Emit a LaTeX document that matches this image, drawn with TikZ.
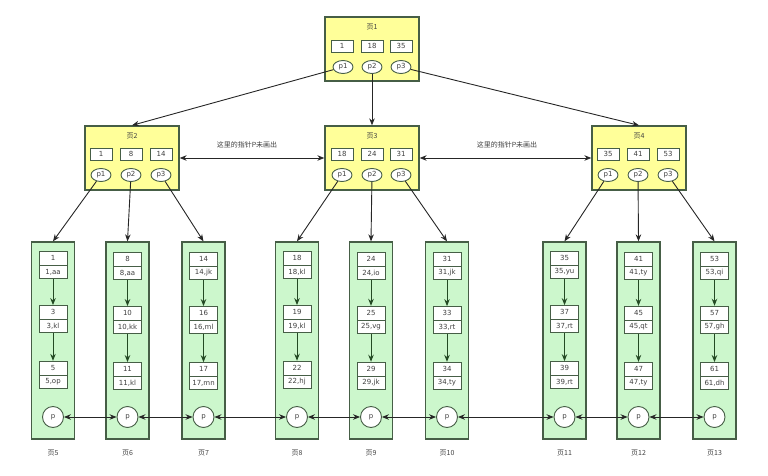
\documentclass[tikz,border=0pt]{standalone}
\usepackage{fontspec}
\setmainfont{DejaVu Sans}
\newfontfamily\cjk{Noto Sans CJK SC}
\usetikzlibrary{arrows.meta,shapes.geometric,shapes.multipart}
\definecolor{leafgreen}{HTML}{CCF7CC}
\definecolor{pageyellow}{HTML}{FFFF99}
\definecolor{edgegray}{HTML}{465E46}
\definecolor{linkgreen}{HTML}{244A24}
\tikzset{
  branch/.style={draw=edgegray, line width=1.3pt, fill=pageyellow, minimum width=94pt, minimum height=64pt},
  leaf/.style={draw=edgegray, line width=1.3pt, fill=leafgreen, minimum width=43pt, minimum height=197pt},
  keybox/.style={draw=edgegray, line width=0.9pt, fill=white, minimum width=22pt, minimum height=12pt, inner sep=0pt},
  ptr/.style={ellipse, draw=edgegray, line width=0.9pt, fill=white, minimum width=20pt, minimum height=13pt, inner sep=0pt},
  rec/.style={rectangle split, rectangle split parts=2, draw=edgegray, line width=0.9pt, fill=white, minimum width=28pt, text height=5.5pt, text depth=1.5pt, inner ysep=3pt, inner xsep=1pt},
  nxt/.style={circle, draw=edgegray, line width=0.9pt, fill=white, minimum size=21pt, inner sep=0pt},
  down/.style={-{Stealth[length=7pt,width=5.5pt]}, line width=0.9pt, draw=black!85},
  chain/.style={-{Stealth[length=7pt,width=5.5pt]}, line width=1pt, draw=linkgreen},
  twoway/.style={{Stealth[length=7pt,width=5.5pt]}-{Stealth[length=7pt,width=5.5pt]}, line width=0.9pt, draw=black!85}
}
\begin{document}
\begin{tikzpicture}[x=1pt, y=-1pt, every node/.style={font=\fontsize{7}{8}\selectfont, text=black!75}]
      \useasboundingbox (0,0) rectangle (768,476);
      % root page
      \node (pg1)[branch] at (372,49) {};
      \node (t1) at (372,27) {\cjk 页1};
      \node (k1a)[keybox] at (342,46) {1};
      \node (k1b)[keybox] at (372,46) {18};
      \node (k1c)[keybox] at (401,46) {35};
      \node (p1a)[ptr] at (343,67) {p1};
      \node (p1b)[ptr] at (372,67) {p2};
      \node (p1c)[ptr] at (401,67) {p3};
      % second level
      \node (pg2)[branch] at (132,158) {};
      \node (t2) at (132,136) {\cjk 页2};
      \node (k2a)[keybox] at (101,154) {1};
      \node (k2b)[keybox] at (131,154) {8};
      \node (k2c)[keybox] at (161,154) {14};
      \node (p2a)[ptr] at (101,175) {p1};
      \node (p2b)[ptr] at (131,175) {p2};
      \node (p2c)[ptr] at (161,175) {p3};
      \node (pg3)[branch] at (372,158) {};
      \node (t3) at (372,136) {\cjk 页3};
      \node (k3a)[keybox] at (342,154) {18};
      \node (k3b)[keybox] at (372,154) {24};
      \node (k3c)[keybox] at (401,154) {31};
      \node (p3a)[ptr] at (342,175) {p1};
      \node (p3b)[ptr] at (372,175) {p2};
      \node (p3c)[ptr] at (401,175) {p3};
      \node (pg4)[branch] at (639,158) {};
      \node (t4) at (639,136) {\cjk 页4};
      \node (k4a)[keybox] at (608,154) {35};
      \node (k4b)[keybox] at (638,154) {41};
      \node (k4c)[keybox] at (668,154) {53};
      \node (p4a)[ptr] at (608,175) {p1};
      \node (p4b)[ptr] at (638,175) {p2};
      \node (p4c)[ptr] at (668,175) {p3};
      \node (n23) at (247,145) {\cjk 这里的指针P未画出};
      \node (n34) at (507,145) {\cjk 这里的指针P未画出};
      % leaf pages
      \node (pg5)[leaf] at (53,340.5) {};
      \node (r5a)[rec] at (53,265) {1 \nodepart{two} 1,aa};
      \node (r5b)[rec] at (53,319) {3 \nodepart{two} 3,kl};
      \node (r5c)[rec] at (53,375) {5 \nodepart{two} 5,op};
      \node (c5)[nxt] at (53,417) {p};
      \node (t5) at (53,453) {\cjk 页5};
      \node (pg6)[leaf] at (127.5,340.5) {};
      \node (r6a)[rec] at (127.5,266) {8 \nodepart{two} 8,aa};
      \node (r6b)[rec] at (127.5,320) {10 \nodepart{two} 10,kk};
      \node (r6c)[rec] at (127.5,376) {11 \nodepart{two} 11,kl};
      \node (c6)[nxt] at (127.5,417) {p};
      \node (t6) at (127.5,453) {\cjk 页6};
      \node (pg7)[leaf] at (203.5,340.5) {};
      \node (r7a)[rec] at (203.5,266) {14 \nodepart{two} 14,jk};
      \node (r7b)[rec] at (203.5,320) {16 \nodepart{two} 16,ml};
      \node (r7c)[rec] at (203.5,376) {17 \nodepart{two} 17,mn};
      \node (c7)[nxt] at (203.5,417) {p};
      \node (t7) at (203.5,453) {\cjk 页7};
      \node (pg8)[leaf] at (297,340.5) {};
      \node (r8a)[rec] at (297,265) {18 \nodepart{two} 18,kl};
      \node (r8b)[rec] at (297,319) {19 \nodepart{two} 19,kl};
      \node (r8c)[rec] at (297,375) {22 \nodepart{two} 22,hj};
      \node (c8)[nxt] at (297,417) {p};
      \node (t8) at (297,453) {\cjk 页8};
      \node (pg9)[leaf] at (371,340.5) {};
      \node (r9a)[rec] at (371,266) {24 \nodepart{two} 24,io};
      \node (r9b)[rec] at (371,320) {25 \nodepart{two} 25,vg};
      \node (r9c)[rec] at (371,376) {29 \nodepart{two} 29,jk};
      \node (c9)[nxt] at (371,417) {p};
      \node (t9) at (371,453) {\cjk 页9};
      \node (pg10)[leaf] at (447,340.5) {};
      \node (r10a)[rec] at (447,266) {31 \nodepart{two} 31,jk};
      \node (r10b)[rec] at (447,320) {33 \nodepart{two} 33,rt};
      \node (r10c)[rec] at (447,376) {34 \nodepart{two} 34,ty};
      \node (c10)[nxt] at (447,417) {p};
      \node (t10) at (447,453) {\cjk 页10};
      \node (pg11)[leaf] at (564.5,340.5) {};
      \node (r11a)[rec] at (564.5,265) {35 \nodepart{two} 35,yu};
      \node (r11b)[rec] at (564.5,319) {37 \nodepart{two} 37,rt};
      \node (r11c)[rec] at (564.5,375) {39 \nodepart{two} 39,rt};
      \node (c11)[nxt] at (564.5,417) {p};
      \node (t11) at (564.5,453) {\cjk 页11};
      \node (pg12)[leaf] at (638.5,340.5) {};
      \node (r12a)[rec] at (638.5,266) {41 \nodepart{two} 41,ty};
      \node (r12b)[rec] at (638.5,320) {45 \nodepart{two} 45,qt};
      \node (r12c)[rec] at (638.5,376) {47 \nodepart{two} 47,ty};
      \node (c12)[nxt] at (638.5,417) {p};
      \node (t12) at (638.5,453) {\cjk 页12};
      \node (pg13)[leaf] at (714.5,340.5) {};
      \node (r13a)[rec] at (714.5,266) {53 \nodepart{two} 53,qi};
      \node (r13b)[rec] at (714.5,320) {57 \nodepart{two} 57,gh};
      \node (r13c)[rec] at (714.5,376) {61 \nodepart{two} 61,dh};
      \node (c13)[nxt] at (714.5,417) {p};
      \node (t13) at (714.5,453) {\cjk 页13};
      % pointers down the tree
      \draw[down] (p1a) -- (pg2.north);
      \draw[down] (p1b) -- (pg3.north);
      \draw[down] (p1c) -- (pg4.north);
      \draw[down] (p2a) -- (pg5.north);
      \draw[down] (p2b) -- (pg6.north);
      \draw[down] (p2c) -- (pg7.north);
      \draw[down] (p3a) -- (pg8.north);
      \draw[down] (p3b) -- (pg9.north);
      \draw[down] (p3c) -- (pg10.north);
      \draw[down] (p4a) -- (pg11.north);
      \draw[down] (p4b) -- (pg12.north);
      \draw[down] (p4c) -- (pg13.north);
      \draw[twoway] (pg2) -- (pg3);
      \draw[twoway] (pg3) -- (pg4);
      % records inside the leaves
      \draw[chain] (r5a) -- (r5b);  \draw[chain] (r5b) -- (r5c);
      \draw[chain] (r6a) -- (r6b);  \draw[chain] (r6b) -- (r6c);
      \draw[chain] (r7a) -- (r7b);  \draw[chain] (r7b) -- (r7c);
      \draw[chain] (r8a) -- (r8b);  \draw[chain] (r8b) -- (r8c);
      \draw[chain] (r9a) -- (r9b);  \draw[chain] (r9b) -- (r9c);
      \draw[chain] (r10a) -- (r10b);  \draw[chain] (r10b) -- (r10c);
      \draw[chain] (r11a) -- (r11b);  \draw[chain] (r11b) -- (r11c);
      \draw[chain] (r12a) -- (r12b);  \draw[chain] (r12b) -- (r12c);
      \draw[chain] (r13a) -- (r13b);  \draw[chain] (r13b) -- (r13c);
      % leaf links
      \draw[twoway] (c5) -- (c6);
      \draw[twoway] (c6) -- (c7);
      \draw[twoway] (c7) -- (c8);
      \draw[twoway] (c8) -- (c9);
      \draw[twoway] (c9) -- (c10);
      \draw[twoway] (c10) -- (c11);
      \draw[twoway] (c11) -- (c12);
      \draw[twoway] (c12) -- (c13);
    \end{tikzpicture}
\end{document}
